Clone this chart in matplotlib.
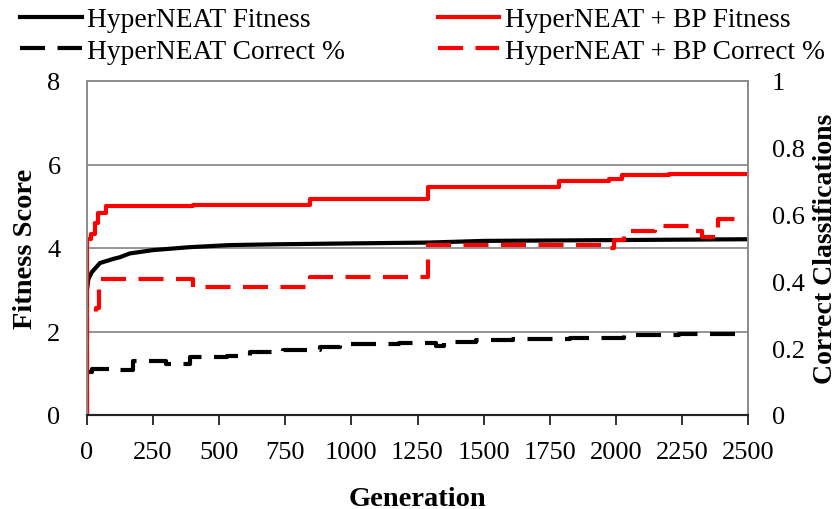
import matplotlib
matplotlib.use("Agg")
import matplotlib.pyplot as plt
from matplotlib.lines import Line2D

plt.rcParams['font.family'] = ['Liberation Serif', 'DejaVu Serif']

# ---- data ----
hn_fit_gen = [0, 2, 5, 18, 49, 100, 125, 162, 250, 389, 540, 729, 1000, 1290, 1500, 2000, 2500]
hn_fit_val = [3.0, 3.1, 3.25, 3.42, 3.64, 3.74, 3.78, 3.87, 3.95, 4.02, 4.07, 4.09, 4.11, 4.13, 4.17, 4.19, 4.21]

bp_fit_gen = [0, 0, 15, 30, 40, 70, 400, 842, 1288, 1786, 1975, 2024, 2200, 2500]
bp_fit_val = [0, 4.21, 4.33, 4.6, 4.85, 5.0, 5.04, 5.18, 5.45, 5.61, 5.65, 5.74, 5.77, 5.77]

hn_cor_gen = [0, 18, 87, 175, 300, 390, 528, 615, 740, 880, 955, 1180, 1320, 1350, 1472, 1610, 1825, 2030, 2240, 2500]
hn_cor_val = [0.13, 0.138, 0.135, 0.162, 0.153, 0.173, 0.177, 0.188, 0.195, 0.205, 0.212, 0.215, 0.207, 0.219, 0.225, 0.227, 0.230, 0.240, 0.242, 0.242]

bp_cor_gen = [0, 0, 35, 45, 400, 842, 1288, 1975, 1995, 2030, 2150, 2300, 2327, 2385, 2500]
bp_cor_val = [0, 0.297, 0.32, 0.407, 0.383, 0.413, 0.508, 0.499, 0.524, 0.551, 0.566, 0.550, 0.532, 0.586, 0.586]

x_ticks = [0, 250, 500, 750, 1000, 1250, 1500, 1750, 2000, 2250, 2500]
left_ticks = [0, 2, 4, 6, 8]
right_ticks = [0, 0.2, 0.4, 0.6, 0.8, 1]
right_tick_labels = ['0', '0.2', '0.4', '0.6', '0.8', '1']

labels = ['HyperNEAT Fitness', 'HyperNEAT Correct %',
          'HyperNEAT + BP Fitness', 'HyperNEAT + BP Correct %']

# ---- figure ----
fig = plt.figure(figsize=(8.39, 5.10), dpi=100)
ax = fig.add_axes([87/839, 1 - 416/510, (748-87)/839, (416-82)/510])
ax2 = ax.twinx()

RED = '#ff0000'
LW = 3.0
DASH = (6, 3)

ax.set_xlim(0, 2500)
ax.set_ylim(0, 8)
ax2.set_ylim(0, 1)

for y in [2, 4, 6]:
    ax.axhline(y, color='#8c8c8c', lw=1.3, zorder=0)

ax.plot(hn_fit_gen, hn_fit_val, color='black', lw=LW, solid_joinstyle='round')
ax.plot(bp_fit_gen, bp_fit_val, color=RED, lw=LW, drawstyle='steps-post')
ax2.plot(hn_cor_gen, hn_cor_val, color='black', lw=LW, drawstyle='steps-post',
         linestyle=(0, DASH))
ax2.plot(bp_cor_gen, bp_cor_val, color=RED, lw=LW, drawstyle='steps-post',
         linestyle=(0, DASH))

ax.set_xticks(x_ticks)
ax.set_xticklabels([str(t) for t in x_ticks])
ax.set_yticks(left_ticks)
ax.set_yticklabels([str(t) for t in left_ticks])
ax2.set_yticks(right_ticks)
ax2.set_yticklabels(right_tick_labels)

for a in (ax, ax2):
    for s in ['left', 'right', 'top']:
        a.spines[s].set_color('#8c8c8c')
        a.spines[s].set_linewidth(1.3)
    a.spines['bottom'].set_color('#222222')
    a.spines['bottom'].set_linewidth(1.5)

ax.tick_params(axis='x', direction='out', length=7, width=1.3, color='#222222',
               labelsize=19, pad=12)
ax.tick_params(axis='y', length=0, labelsize=19, pad=19)
ax2.tick_params(axis='y', length=0, labelsize=19, pad=17)

ax.set_xlabel('Generation', fontsize=20.5, fontweight='bold', labelpad=16)
ax.set_ylabel('Fitness Score', fontsize=20.5, fontweight='bold', labelpad=7)
ax2.set_ylabel('Correct Classifications', fontsize=20, fontweight='bold',
               rotation=90, labelpad=6)

handles = [
    Line2D([], [], color='black', lw=LW),
    Line2D([], [], color='black', lw=LW, linestyle=(0, DASH)),
    Line2D([], [], color=RED, lw=LW),
    Line2D([], [], color=RED, lw=LW, linestyle=(0, DASH)),
]
fig.legend(handles, labels, ncol=2, loc='upper left',
           bbox_to_anchor=(20/839, 1 - 8/510), frameon=False,
           fontsize=19.8, handlelength=2.25, handletextpad=0.2,
           columnspacing=3.35, labelspacing=0.23, borderpad=0, borderaxespad=0)

fig.savefig('out.png', dpi=100)
